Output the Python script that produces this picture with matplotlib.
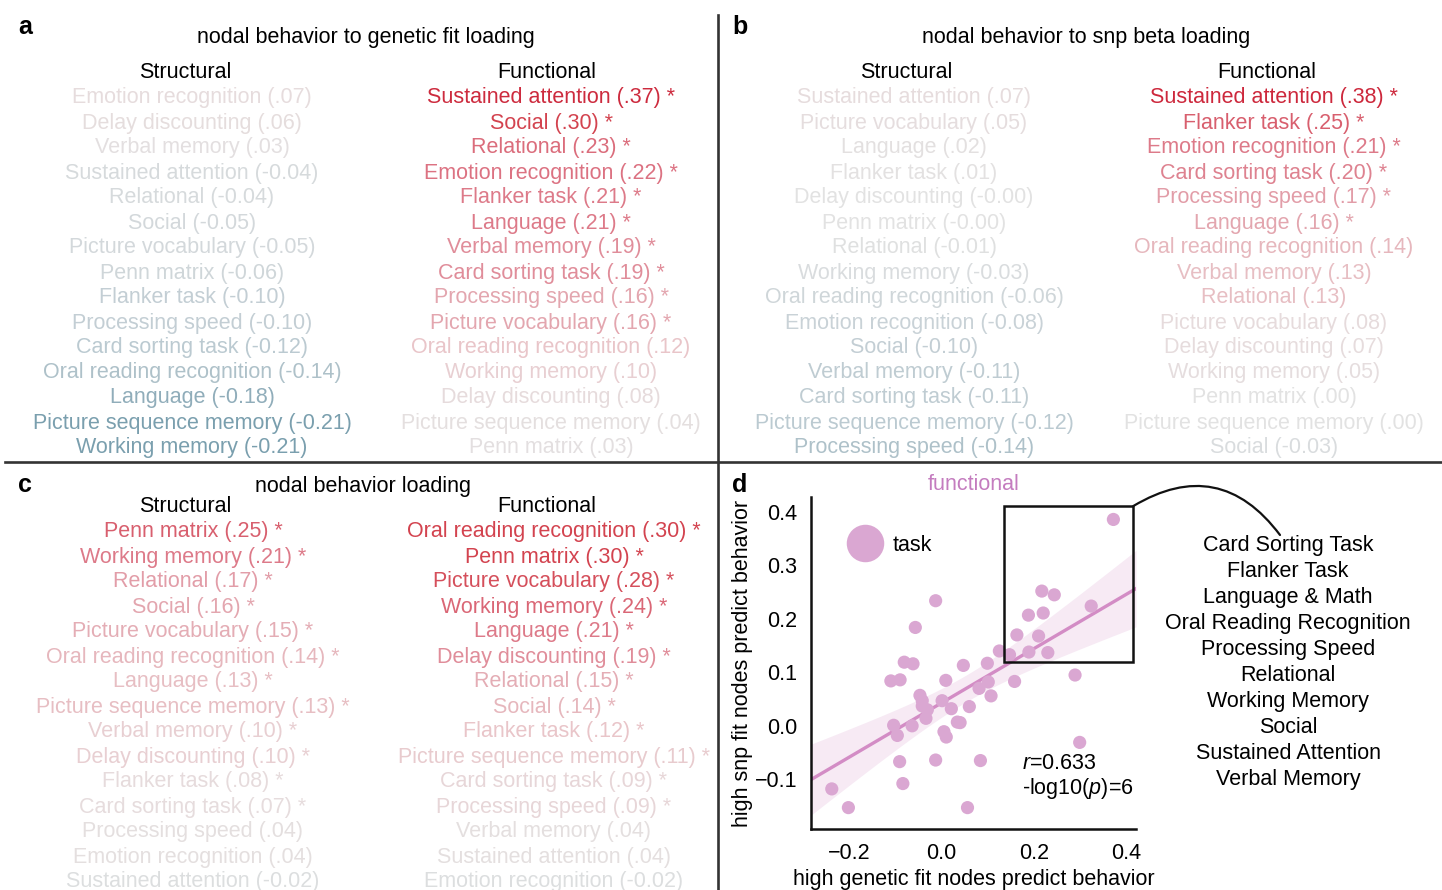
import math
import numpy as np
import matplotlib
matplotlib.use("Agg")
import matplotlib.pyplot as plt
from matplotlib.colors import LinearSegmentedColormap
from matplotlib.patches import Rectangle
from matplotlib.lines import Line2D
from matplotlib.ticker import FuncFormatter

plt.rcParams['font.family'] = ['Liberation Sans', 'DejaVu Sans']
plt.rcParams['mathtext.fontset'] = 'custom'
plt.rcParams['mathtext.rm'] = 'Liberation Sans'
plt.rcParams['mathtext.it'] = 'Liberation Sans:italic'

# ---------------- data ----------------
a_struct_names = ["Emotion recognition", "Delay discounting", "Verbal memory", "Sustained attention",
                  "Relational", "Social", "Picture vocabulary", "Penn matrix", "Flanker task",
                  "Processing speed", "Card sorting task", "Oral reading recognition", "Language",
                  "Picture sequence memory", "Working memory"]
a_struct_vals = [0.07, 0.06, 0.03, -0.04, -0.04, -0.05, -0.05, -0.06, -0.10, -0.10, -0.12, -0.14, -0.18, -0.21, -0.21]
a_struct_sig = [False] * 15

a_func_names = ["Sustained attention", "Social", "Relational", "Emotion recognition", "Flanker task",
                "Language", "Verbal memory", "Card sorting task", "Processing speed", "Picture vocabulary",
                "Oral reading recognition", "Working memory", "Delay discounting",
                "Picture sequence memory", "Penn matrix"]
a_func_vals = [0.37, 0.30, 0.23, 0.22, 0.21, 0.21, 0.19, 0.19, 0.16, 0.16, 0.12, 0.10, 0.08, 0.04, 0.03]
a_func_sig = [True] * 10 + [False] * 5

b_struct_names = ["Sustained attention", "Picture vocabulary", "Language", "Flanker task",
                  "Delay discounting", "Penn matrix", "Relational", "Working memory",
                  "Oral reading recognition", "Emotion recognition", "Social", "Verbal memory",
                  "Card sorting task", "Picture sequence memory", "Processing speed"]
b_struct_vals = [0.07, 0.05, 0.02, 0.01, -0.0, -0.0, -0.01, -0.03, -0.06, -0.08, -0.10, -0.11, -0.11, -0.12, -0.14]
b_struct_sig = [False] * 15

b_func_names = ["Sustained attention", "Flanker task", "Emotion recognition", "Card sorting task",
                "Processing speed", "Language", "Oral reading recognition", "Verbal memory",
                "Relational", "Picture vocabulary", "Delay discounting", "Working memory",
                "Penn matrix", "Picture sequence memory", "Social"]
b_func_vals = [0.38, 0.25, 0.21, 0.20, 0.17, 0.16, 0.14, 0.13, 0.13, 0.08, 0.07, 0.05, 0.00, 0.00, -0.03]
b_func_sig = [True] * 6 + [False] * 9

c_struct_names = ["Penn matrix", "Working memory", "Relational", "Social", "Picture vocabulary",
                  "Oral reading recognition", "Language", "Picture sequence memory", "Verbal memory",
                  "Delay discounting", "Flanker task", "Card sorting task", "Processing speed",
                  "Emotion recognition", "Sustained attention"]
c_struct_vals = [0.25, 0.21, 0.17, 0.16, 0.15, 0.14, 0.13, 0.13, 0.10, 0.10, 0.08, 0.07, 0.04, 0.04, -0.02]
c_struct_sig = [True] * 12 + [False] * 3

c_func_names = ["Oral reading recognition", "Penn matrix", "Picture vocabulary", "Working memory",
                "Language", "Delay discounting", "Relational", "Social", "Flanker task",
                "Picture sequence memory", "Card sorting task", "Processing speed", "Verbal memory",
                "Sustained attention", "Emotion recognition"]
c_func_vals = [0.30, 0.30, 0.28, 0.24, 0.21, 0.19, 0.15, 0.14, 0.12, 0.11, 0.09, 0.09, 0.04, 0.04, -0.02]
c_func_sig = [True] * 12 + [False] * 3

# scatter (panel d)
genetic_fit = [0.372, 0.217, 0.244, -0.013, 0.324, 0.188, 0.220, -0.057, 0.163, 0.210,
               0.125, 0.147, 0.189, 0.230, -0.081, -0.062, 0.047, 0.099, 0.289, -0.110,
               -0.090, 0.009, 0.158, 0.101, 0.081, -0.047, 0.107, -0.042, 0.001, -0.042,
               -0.031, 0.021, 0.060, -0.034, -0.104, -0.096, -0.064, 0.034, 0.040, 0.005,
               0.010, 0.299, -0.091, -0.013, 0.084, -0.238, -0.084, -0.202, 0.056]
snp_fit = [0.386, 0.252, 0.245, 0.234, 0.224, 0.207, 0.211, 0.184, 0.170, 0.168,
           0.140, 0.133, 0.138, 0.137, 0.119, 0.116, 0.113, 0.117, 0.095, 0.084,
           0.086, 0.085, 0.083, 0.082, 0.070, 0.057, 0.056, 0.047, 0.047, 0.037,
           0.030, 0.032, 0.036, 0.014, 0.001, -0.018, 0.000, 0.007, 0.006, -0.011,
           -0.021, -0.031, -0.067, -0.064, -0.065, -0.118, -0.108, -0.153, -0.153]

d_tasks = ["Card Sorting Task", "Flanker Task", "Language & Math", "Oral Reading Recognition",
           "Processing Speed", "Relational", "Working Memory", "Social",
           "Sustained Attention", "Verbal Memory"]
r_value = "0.633"
log_p = "6"

# ---------------- style ----------------
W, H = 1442, 890
FS = 15.5
DY = 2  # vertical nudge for centred texts (px)
fig = plt.figure(figsize=(W / 100, H / 100), dpi=100)


def fx(px):
    return px / W


def fy(py):
    return 1 - (py + DY) / H


VMIN, VMAX = -0.4, 0.4
nodes = [(-0.40, '#2f6f86'), (-0.21, '#7b9fae'), (-0.12, '#bccad1'), (0.0, '#e2e2e2'),
         (0.08, '#e6dbdc'), (0.12, '#e9c6ca'), (0.16, '#e3a7b0'), (0.22, '#dc7383'),
         (0.30, '#d3434f'), (0.40, '#cb2238')]
cmap = LinearSegmentedColormap.from_list(
    'div', [((v - VMIN) / (VMAX - VMIN), c) for v, c in nodes])


def color_of(v):
    return cmap((v - VMIN) / (VMAX - VMIN))


def fmt(v):
    if v < 0 or (v == 0 and math.copysign(1, v) < 0):
        return f"({v:.2f})"
    return "(" + f"{v:.2f}"[1:] + ")"


def draw_column(names, vals, sig, cx, y0, step=25):
    for i, (n, v, s) in enumerate(zip(names, vals, sig)):
        fig.text(fx(cx), fy(y0 + step * i), f"{n} {fmt(v)}" + (" *" if s else ""),
                 ha='center', va='center', color=color_of(v), fontsize=FS)


# panel a
fig.text(fx(25), fy(25), 'a', fontsize=18, fontweight='bold', ha='center', va='center')
fig.text(fx(366), fy(36), 'nodal behavior to genetic fit loading', fontsize=FS, ha='center', va='center')
fig.text(fx(185), fy(71), 'Structural', fontsize=FS, ha='center', va='center')
fig.text(fx(547), fy(71), 'Functional', fontsize=FS, ha='center', va='center')
draw_column(a_struct_names, a_struct_vals, a_struct_sig, 192, 96)
draw_column(a_func_names, a_func_vals, a_func_sig, 551, 96)

# panel b
fig.text(fx(740), fy(25), 'b', fontsize=18, fontweight='bold', ha='center', va='center')
fig.text(fx(1086), fy(36), 'nodal behavior to snp beta loading', fontsize=FS, ha='center', va='center')
fig.text(fx(906), fy(71), 'Structural', fontsize=FS, ha='center', va='center')
fig.text(fx(1267), fy(71), 'Functional', fontsize=FS, ha='center', va='center')
draw_column(b_struct_names, b_struct_vals, b_struct_sig, 914, 96)
draw_column(b_func_names, b_func_vals, b_func_sig, 1274, 96)

# panel c
fig.text(fx(25), fy(483), 'c', fontsize=18, fontweight='bold', ha='center', va='center')
fig.text(fx(363), fy(484), 'nodal behavior loading', fontsize=FS, ha='center', va='center')
fig.text(fx(185), fy(504), 'Structural', fontsize=FS, ha='center', va='center')
fig.text(fx(547), fy(504), 'Functional', fontsize=FS, ha='center', va='center')
draw_column(c_struct_names, c_struct_vals, c_struct_sig, 193, 530)
draw_column(c_func_names, c_func_vals, c_func_sig, 554, 530)

# panel d
fig.text(fx(740), fy(483), 'd', fontsize=18, fontweight='bold', ha='center', va='center')

# separators
fig.add_artist(Line2D([fx(718), fx(718)], [1 - 15 / H, 0], color='#333333', lw=1.9))
fig.add_artist(Line2D([fx(5), 1.0], [1 - 462 / H, 1 - 462 / H], color='#333333', lw=1.9))

PT_COL = '#daa7d2'
LINE_COL = '#d38cc5'
ax = fig.add_axes([fx(811), 1 - 829 / H, (1136 - 811) / W, (829 - 497) / H])
ax.set_xlim(-0.283, 0.421)
ax.set_ylim(-0.193, 0.428)
x = np.array(genetic_fit)
y = np.array(snp_fit)

# regression with 95% CI
slope, intercept = np.polyfit(x, y, 1)
n = len(x)
resid = y - (slope * x + intercept)
s = np.sqrt(np.sum(resid ** 2) / (n - 2))
xg = np.linspace(-0.283, 0.421, 200)
yg = slope * xg + intercept
se = s * np.sqrt(1 / n + (xg - x.mean()) ** 2 / np.sum((x - x.mean()) ** 2))
ax.fill_between(xg, yg - 2.01 * se, yg + 2.01 * se, color=LINE_COL, alpha=0.18, lw=0, zorder=1)
ax.plot(xg, yg, color=LINE_COL, lw=2.4, zorder=2)
ax.scatter(x, y, s=90, color=PT_COL, edgecolors='none', zorder=3)

minus_fmt = FuncFormatter(lambda v, p: f"{v:.1f}".replace('-', '\u2212'))
ax.set_xticks([-0.2, 0.0, 0.2, 0.4])
ax.set_yticks([-0.1, 0.0, 0.1, 0.2, 0.3, 0.4])
ax.xaxis.set_major_formatter(minus_fmt)
ax.yaxis.set_major_formatter(minus_fmt)
ax.tick_params(length=0, labelsize=FS, pad=10)
for sp in ['top', 'right']:
    ax.spines[sp].set_visible(False)
for sp in ['left', 'bottom']:
    ax.spines[sp].set_linewidth(1.8)
    ax.spines[sp].set_color('#111111')
ax.set_xlabel('high genetic fit nodes predict behavior', fontsize=FS, labelpad=4)
ax.set_ylabel('high snp fit nodes predict behavior', fontsize=FS, labelpad=1)
ax.set_title('functional', color='#c47cbf', fontsize=FS, pad=5)

handle = Line2D([], [], marker='o', ls='', color=PT_COL, markersize=27, markeredgewidth=0)
ax.legend([handle], ['task'], loc='center left', bbox_to_anchor=(0.10, 0.855),
          frameon=False, fontsize=FS, borderpad=0, borderaxespad=0, handletextpad=0.3)

ax.add_patch(Rectangle((0.135, 0.120), 0.28, 0.291, fill=False, edgecolor='#111111', lw=1.8,
                       zorder=4, clip_on=False))
ax.text(0.175, -0.071, f"$r$={r_value}", fontsize=FS, ha='left', va='center')
ax.text(0.175, -0.118, f"-log10($p$)={log_p}", fontsize=FS, ha='left', va='center')

ax.annotate('', xy=(fx(1280), 1 - 535 / H), xycoords='figure fraction',
            xytext=(0.415, 0.411), textcoords='data',
            arrowprops=dict(arrowstyle='-', connectionstyle='arc3,rad=-0.45', lw=1.6,
                            color='#111111', shrinkA=0, shrinkB=0))

for i, t in enumerate(d_tasks):
    fig.text(fx(1288), fy(544 + 25.9 * i), t, fontsize=FS, ha='center', va='center')

fig.savefig('out.png', dpi=100)
